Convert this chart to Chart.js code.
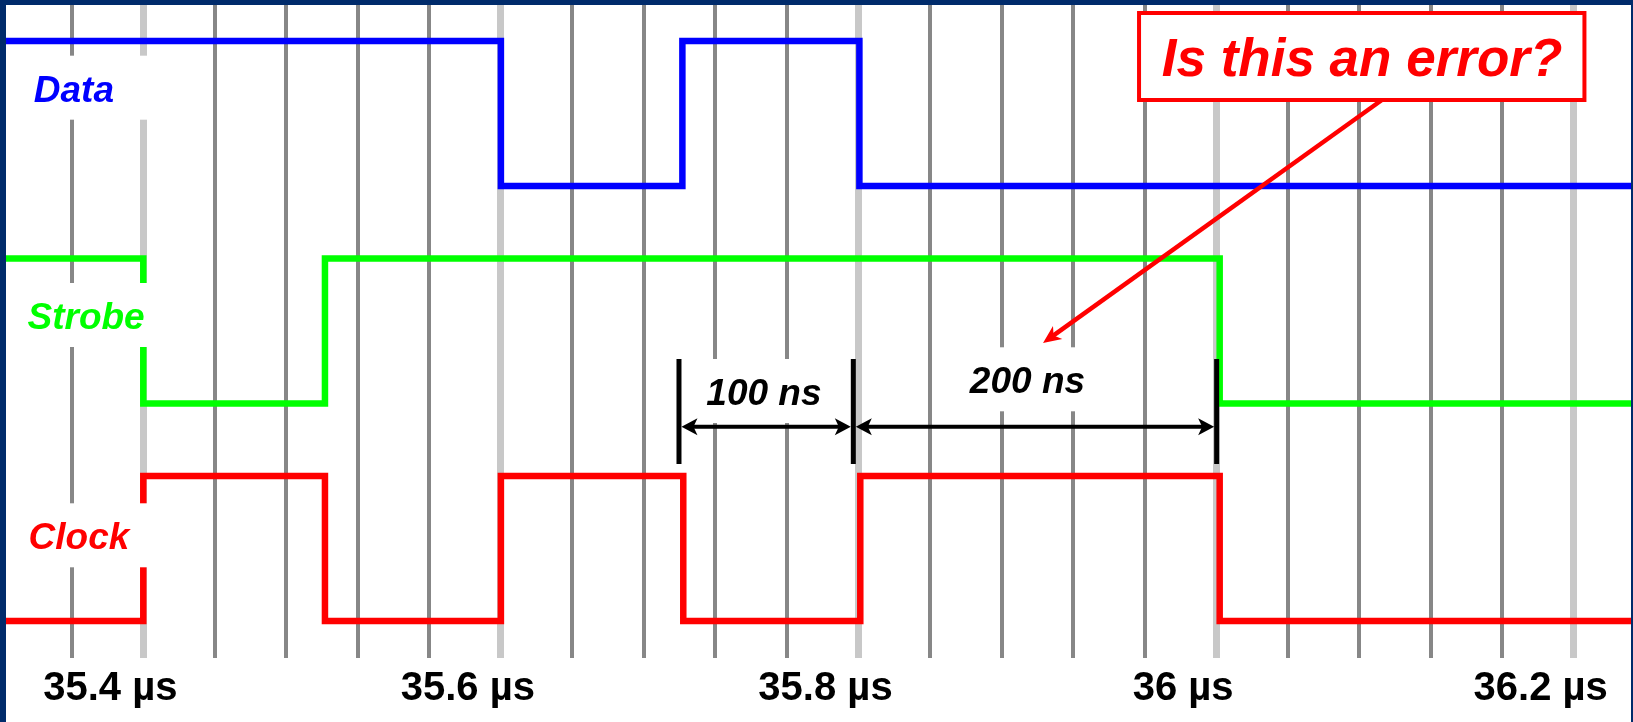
<!DOCTYPE html>
<html><head><meta charset="utf-8">
<script src="https://cdn.jsdelivr.net/npm/chart.js@4.4.1/dist/chart.umd.min.js"></script>
<style>html,body{margin:0;padding:0;background:#fff;overflow:hidden}canvas{display:block}</style>
</head><body>
<canvas id="c" width="1633" height="722"></canvas>
<script>
// ---- data (times in µs, logic states 0/1) ----
const axisMin = 35.31986;
const axisMax = 36.23316;
const dataTimes   = [axisMin, 35.6, 35.7015, 35.8005, axisMax];
const dataStates  = [1, 0, 1, 0, 0];
const strobeTimes = [axisMin, 35.4, 35.5016, 36.002, axisMax];
const strobeStates= [1, 0, 1, 0, 0];
const clockTimes  = [axisMin, 35.4, 35.5016, 35.6, 35.702, 35.801, 36.002, axisMax];
const clockStates = [0, 1, 0, 1, 0, 1, 0, 0];
const signalNames = ['Data', 'Strobe', 'Clock'];
const tickValues  = [35.4, 35.6, 35.8, 36.0, 36.2];
const tickLabels  = ['35.4 µs', '35.6 µs', '35.8 µs', '36 µs', '36.2 µs'];
const intervalBounds = [35.6996, 35.7971, 36.0003];
const intervalLabels = ['100 ns', '200 ns'];
const questionText = 'Is this an error?';

// ---- layout / style (lane units on y) ----
const yMin = -0.5103, yMax = 8.5655;
const laneBase = [6, 3, 0];
const laneAmp = 2;
const laneColors = ['#0000ff', '#00ff00', '#ff0000'];
const labelPos = [[35.3612, 7.163], [35.3680, 4.0276], [35.3640, 0.989]];
const intervalTextPos = [[35.7471, 2.9793], [35.8945, 3.1407]];
const barTop = 3.614, barBottom = 2.1655, dimY = 2.6786;
const qBox = [35.9569, 8.3862, 36.2060, 7.1862];
const qText = [36.0816, 7.5241];
const qArrow = [36.0927, 7.1862, 35.9032, 3.8345];

const series = [[dataTimes, dataStates], [strobeTimes, strobeStates], [clockTimes, clockStates]];
const datasets = series.map((s, i) => ({
  label: signalNames[i],
  data: s[0].map((t, j) => ({x: t, y: laneBase[i] + laneAmp * s[1][j]})),
  borderColor: laneColors[i],
  borderWidth: 6.5,
  stepped: 'before',
  pointRadius: 0,
  fill: false,
  tension: 0,
  borderJoinStyle: 'miter',
  borderCapStyle: 'butt',
  clip: false
}));

const isMajor = v => tickValues.some(t => Math.abs(t - v) < 1e-6);
const FONT = '"Liberation Sans", Arial, sans-serif';

function boxedText(ctx, text, cx, base, font, color, x0, x1) {
  ctx.font = font;
  const w = ctx.measureText(text).width;
  const l = (x0 !== undefined) ? x0 : cx - w / 2 - 6;
  const r = (x1 !== undefined) ? x1 : cx + w / 2 + 6;
  ctx.fillStyle = '#ffffff';
  ctx.fillRect(l, base - 46, r - l, 64);
  ctx.fillStyle = color;
  ctx.textAlign = 'center';
  ctx.textBaseline = 'alphabetic';
  ctx.fillText(text, cx, base);
}

function arrowHead(ctx, tx, ty, ang, len, half, notch) {
  ctx.save();
  ctx.translate(tx, ty);
  ctx.rotate(ang);
  ctx.beginPath();
  ctx.moveTo(0, 0);
  ctx.lineTo(len, -half);
  ctx.lineTo(len - notch, 0);
  ctx.lineTo(len, half);
  ctx.closePath();
  ctx.fill();
  ctx.restore();
}

const overlay = {
  id: 'overlay',
  afterDatasetsDraw(chart) {
    const {ctx, chartArea, scales: {x, y}} = chart;
    ctx.save();
    // lane labels
    signalNames.forEach((n, i) => {
      boxedText(ctx, n, x.getPixelForValue(labelPos[i][0]), y.getPixelForValue(labelPos[i][1]),
        'italic bold 37px ' + FONT, laneColors[i], chartArea.left, x.getPixelForValue(35.4) + 8);
    });
    // interval labels
    intervalLabels.forEach((t, i) => {
      boxedText(ctx, t, x.getPixelForValue(intervalTextPos[i][0]), y.getPixelForValue(intervalTextPos[i][1]),
        'italic bold 37px ' + FONT, '#000000');
    });
    // dimension bars
    ctx.strokeStyle = '#000'; ctx.fillStyle = '#000';
    ctx.lineWidth = 5;
    const bx = intervalBounds.map(v => x.getPixelForValue(v));
    const yt = y.getPixelForValue(barTop), yb = y.getPixelForValue(barBottom), yd = y.getPixelForValue(dimY);
    bx.forEach(p => { ctx.beginPath(); ctx.moveTo(p, yt); ctx.lineTo(p, yb); ctx.stroke(); });
    ctx.lineWidth = 4;
    for (let i = 0; i < bx.length - 1; i++) {
      const a = bx[i] + 2.5, b = bx[i + 1] - 2.5;
      ctx.beginPath(); ctx.moveTo(a + 6, yd); ctx.lineTo(b - 6, yd); ctx.stroke();
      arrowHead(ctx, a, yd, 0, 16, 8.5, 4);
      arrowHead(ctx, b, yd, Math.PI, 16, 8.5, 4);
    }
    // question box
    const l = x.getPixelForValue(qBox[0]), t = y.getPixelForValue(qBox[1]);
    const r = x.getPixelForValue(qBox[2]), btm = y.getPixelForValue(qBox[3]);
    ctx.fillStyle = '#fff';
    ctx.fillRect(l, t, r - l, btm - t);
    ctx.strokeStyle = '#ff0000'; ctx.lineWidth = 4;
    ctx.strokeRect(l, t, r - l, btm - t);
    ctx.fillStyle = '#ff0000';
    ctx.font = 'italic bold 53px ' + FONT;
    ctx.textAlign = 'center'; ctx.textBaseline = 'alphabetic';
    ctx.fillText(questionText, x.getPixelForValue(qText[0]), y.getPixelForValue(qText[1]));
    // arrow
    const ax0 = x.getPixelForValue(qArrow[0]), ay0 = y.getPixelForValue(qArrow[1]);
    const ax1 = x.getPixelForValue(qArrow[2]), ay1 = y.getPixelForValue(qArrow[3]);
    const ang = Math.atan2(ay0 - ay1, ax0 - ax1);
    ctx.lineWidth = 4.5;
    ctx.beginPath(); ctx.moveTo(ax0, ay0);
    ctx.lineTo(ax1 + Math.cos(ang) * 10, ay1 + Math.sin(ang) * 10); ctx.stroke();
    arrowHead(ctx, ax1, ay1, ang, 18, 8, 5);
    ctx.restore();
  },
  afterDraw(chart) {
    const ctx = chart.ctx;
    ctx.save();
    ctx.fillStyle = '#002b6b';
    ctx.fillRect(0, 0, chart.width, 5);
    ctx.fillRect(0, 0, 6, chart.height);
    ctx.fillRect(chart.width - 2, 0, 2, chart.height);
    ctx.restore();
  }
};

new Chart(document.getElementById('c'), {
  type: 'line',
  data: {datasets},
  plugins: [overlay],
  options: {
    responsive: false,
    animation: false,
    devicePixelRatio: 1,
    events: [],
    layout: {padding: 0},
    plugins: {legend: {display: false}, tooltip: {enabled: false}},
    scales: {
      x: {
        type: 'linear',
        min: axisMin,
        max: axisMax,
        position: 'bottom',
        border: {display: false},
        grid: {
          drawTicks: false,
          color: c => isMajor(c.tick.value) ? '#c8c8c8' : '#878787',
          lineWidth: c => isMajor(c.tick.value) ? 7 : 4
        },
        ticks: {
          stepSize: 0.04,
          includeBounds: false,
          autoSkip: false,
          maxRotation: 0,
          minRotation: 0,
          labelOffset: -33,
          padding: 7,
          color: '#000',
          font: {family: 'Liberation Sans', size: 40, weight: 'bold'},
          callback: v => { const k = tickValues.findIndex(t => Math.abs(t - v) < 1e-6); return k >= 0 ? tickLabels[k] : ''; }
        },
        afterFit: s => { s.height = 64; s.paddingLeft = 0; s.paddingRight = 0; }
      },
      y: {type: 'linear', min: yMin, max: yMax, display: false}
    }
  }
});
</script>
</body></html>
